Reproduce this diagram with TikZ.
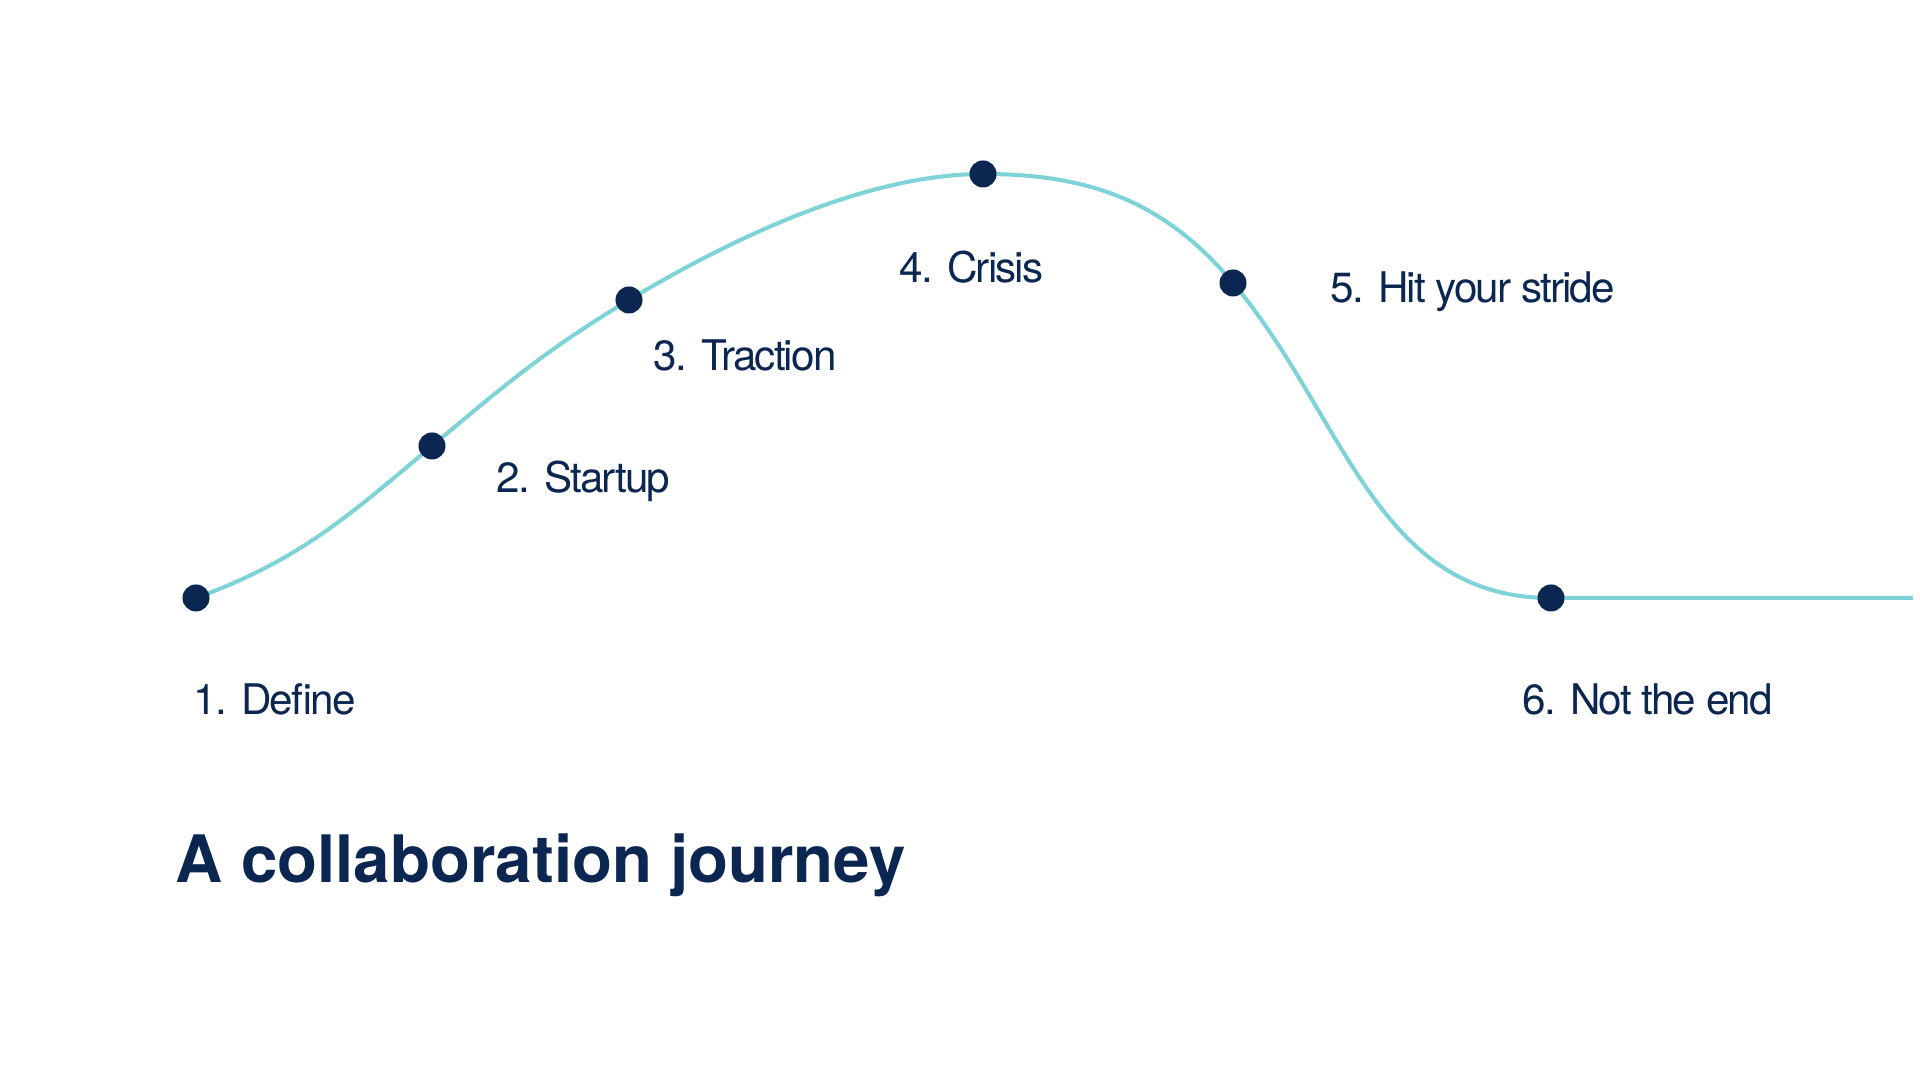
\documentclass[tikz,border=0pt]{standalone}
\usepackage{fontspec}
\setmainfont{TeX Gyre Heros}
\newfontfamily\stagefont[LetterSpace=-4.5]{TeX Gyre Heros}
\definecolor{navy}{RGB}{11,38,81}
\definecolor{teal}{RGB}{126,211,214}
\newcommand{\stagegap}{\hspace{.34em}}
\tikzset{
  journey/.style={teal,line width=1.15pt},
  stagedot/.style={circle,fill=navy,inner sep=0pt,minimum size=0.27cm},
  stagelabel/.style={anchor=base west,inner sep=0pt,text=navy,font=\stagefont\fontsize{12pt}{14pt}\selectfont},
  titlelabel/.style={anchor=base west,inner sep=0pt,text=navy,font=\bfseries\fontsize{18.6pt}{22pt}\selectfont},
}

\begin{document}
\begin{tikzpicture}[x=0.01cm,y=0.01cm]
\useasboundingbox (0,0) rectangle (1920,1080);
\fill[white] (0,0) rectangle (1920,1080);
% stages on the curve
\coordinate (S1) at (196,482);
\coordinate (S2) at (432,634);
\coordinate (S3) at (629,780);
\coordinate (S4) at (983,906);
\coordinate (S5) at (1233,797);
\coordinate (S6) at (1551,482);
\coordinate (E) at (1913,482);
\draw[journey] (S1) to[out=20,in=220] (S2) to[out=40,in=211] (S3)
  to[out=31,in=180,looseness=.8] (S4) to[out=0,in=130] (S5)
  to[out=-50,in=180] (S6) -- (E);
\foreach \i in {1,...,6}
  \node[stagedot] (dot\i) at (S\i) {};
% labels
\node[stagelabel] (lab1) at (193,365) {1.\stagegap Define};
\node[stagelabel] (lab2) at (496,587) {2.\stagegap Startup};
\node[stagelabel] (lab3) at (653,709) {3.\stagegap Traction};
\node[stagelabel] (lab4) at (899,797) {4.\stagegap Crisis};
\node[stagelabel] (lab5) at (1330,777) {5.\stagegap Hit your stride};
\node[stagelabel] (lab6) at (1522,365) {6.\stagegap Not the end};
\node[titlelabel] (title) at (175,197) {A collaboration journey};
\end{tikzpicture}
\end{document}
